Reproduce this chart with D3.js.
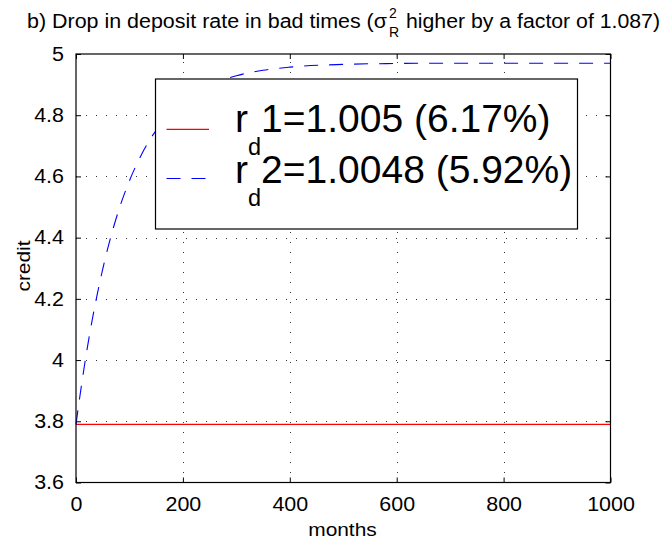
<!DOCTYPE html>
<html>
<head>
<meta charset="utf-8">
<script src="https://cdn.jsdelivr.net/npm/d3@7"></script>
<style>
  html, body { margin: 0; padding: 0; background: #fff; }
  svg { display: block; }
  text { font-family: "Liberation Sans", Arial, Helvetica, sans-serif; fill: #000; }
</style>
</head>
<body>
<svg id="chart" width="671" height="544"></svg>
<script>
// ---- data ----
const months  = [0, 10, 20, 30, 40, 50, 60, 80, 100, 120, 140, 160, 180, 200, 250, 300, 350, 400, 500, 600, 700, 800, 900, 1000];
const rd1     = [3.79, 3.79, 3.79, 3.79, 3.79, 3.79, 3.79, 3.79, 3.79, 3.79, 3.79, 3.79, 3.79, 3.79, 3.79, 3.79, 3.79, 3.79, 3.79, 3.79, 3.79, 3.79, 3.79, 3.79];
const rd2     = [3.79, 3.915, 4.028, 4.128, 4.217, 4.297, 4.369, 4.49, 4.586, 4.663, 4.725, 4.774, 4.814, 4.845, 4.899, 4.929, 4.947, 4.957, 4.966, 4.969, 4.97, 4.97, 4.97, 4.97];
const xTicks  = [0, 200, 400, 600, 800, 1000];
const yTicks  = [3.6, 3.8, 4, 4.2, 4.4, 4.6, 4.8, 5];
const seriesNames = ["1=1.005 (6.17%)", "2=1.0048 (5.92%)"];
const titleMain = "b) Drop in deposit rate in bad times (\u03C3";
const titleSup = "2", titleSub = "R";
const titleRest = "higher by a factor of 1.087)";
const xLabel = "months", yLabel = "credit";

// ---- layout ----
const svg = d3.select("#chart");
const L = 76, R = 610.5, T = 54, B = 482.5;
const x = d3.scaleLinear().domain([0, 1000]).range([L, R]);
const y = d3.scaleLinear().domain([3.6, 5]).range([B, T]);

function stretch(sel, k) {
  sel.each(function () {
    const t = d3.select(this);
    const w = this.getComputedTextLength();
    t.attr("textLength", w * k).attr("lengthAdjust", "spacingAndGlyphs");
  });
}

// grid
const grid = svg.append("g").attr("stroke", "#333").attr("stroke-width", 1)
  .attr("stroke-dasharray", "1,9").attr("shape-rendering", "crispEdges");
xTicks.slice(1, -1).forEach(v => grid.append("line")
  .attr("x1", Math.round(x(v)) + 0.5).attr("x2", Math.round(x(v)) + 0.5).attr("y1", B).attr("y2", T));
yTicks.slice(1, -1).forEach(v => grid.append("line")
  .attr("y1", Math.round(y(v)) + 0.5).attr("y2", Math.round(y(v)) + 0.5).attr("x1", L).attr("x2", R));

// axes via d3 axis (inner ticks), plus mirrored top/right
const tickLen = 5;
const gx = svg.append("g").attr("transform", `translate(0,${B})`)
  .call(d3.axisBottom(x).tickValues(xTicks).tickSizeInner(-tickLen).tickSizeOuter(0).tickPadding(15).tickFormat(d3.format("d")));
const gy = svg.append("g").attr("transform", `translate(${L},0)`)
  .call(d3.axisLeft(y).tickValues(yTicks).tickSizeInner(-tickLen).tickSizeOuter(0).tickPadding(12).tickFormat(d => d3.format("")(d)));
const gx2 = svg.append("g").attr("transform", `translate(0,${T})`)
  .call(d3.axisTop(x).tickValues(xTicks).tickSizeInner(-tickLen).tickSizeOuter(0).tickFormat(""));
const gy2 = svg.append("g").attr("transform", `translate(${R},0)`)
  .call(d3.axisRight(y).tickValues(yTicks).tickSizeInner(-tickLen).tickSizeOuter(0).tickFormat(""));
[gx, gy, gx2, gy2].forEach(g => {
  g.select(".domain").remove();
  g.selectAll("line").attr("stroke", "#000");
});
svg.selectAll(".tick text").attr("font-size", 19.5).attr("fill", "#000")
  .style("font-family", '"Liberation Sans", Arial, Helvetica, sans-serif');
gx.selectAll(".tick text").attr("dy", "0.71em");
stretch(svg.selectAll(".tick text"), 1.1);

// lines
const line = d3.line().x((d, i) => x(months[i])).y(d => y(d));
svg.append("path").datum(rd1).attr("d", line).attr("fill", "none")
  .attr("stroke", "#ff0000").attr("stroke-width", 1.2);
svg.append("path").datum(rd2).attr("d", line.curve(d3.curveMonotoneX)).attr("fill", "none")
  .attr("stroke", "#0000ff").attr("stroke-width", 1.1).attr("stroke-dasharray", "14,11");

// box
svg.append("rect").attr("x", L).attr("y", T).attr("width", R - L).attr("height", B - T)
  .attr("fill", "none").attr("stroke", "#000").attr("stroke-width", 1.2);

// legend
const lg = svg.append("g");
lg.append("rect").attr("x", 155.5).attr("y", 79).attr("width", 422).attr("height", 150)
  .attr("fill", "#fff").attr("stroke", "#000").attr("stroke-width", 1.2);
const legStyles = [{ c: "#ff0000", dash: null, yl: 129.3, yb: 132 },
                   { c: "#0000ff", dash: "14,11", yl: 178.5, yb: 183 }];
seriesNames.forEach((name, i) => {
  const s = legStyles[i];
  lg.append("line").attr("x1", 166.5).attr("x2", 209).attr("y1", s.yl).attr("y2", s.yl)
    .attr("stroke", s.c).attr("stroke-width", 1.2).attr("stroke-dasharray", s.dash);
  const t = lg.append("text").attr("x", 235).attr("y", s.yb).attr("font-size", 39);
  t.append("tspan").text("r");
  t.append("tspan").attr("dy", 22.6).attr("font-size", 23.5).text("d");
  t.append("tspan").attr("dy", -22.6).attr("font-size", 39).text(name);
});

// title
svg.append("text").attr("x", 387).attr("y", 28).attr("text-anchor", "end")
  .attr("font-size", 20).attr("textLength", 360).attr("lengthAdjust", "spacingAndGlyphs").text(titleMain);
svg.append("text").attr("x", 389).attr("y", 18).attr("font-size", 14).text(titleSup);
svg.append("text").attr("x", 389).attr("y", 36.5).attr("font-size", 14).text(titleSub);
svg.append("text").attr("x", 406).attr("y", 28).attr("font-size", 20)
  .attr("textLength", 254).attr("lengthAdjust", "spacingAndGlyphs").text(titleRest);

// axis labels
const xl = svg.append("text").attr("x", 342.5).attr("y", 536).attr("text-anchor", "middle")
  .attr("font-size", 19).text(xLabel);
stretch(xl, 1.1);
const yl = svg.append("text").attr("transform", "translate(30,266) rotate(-90)")
  .attr("text-anchor", "middle").attr("font-size", 19).text(yLabel);
stretch(yl, 1.1);
</script>
</body>
</html>
